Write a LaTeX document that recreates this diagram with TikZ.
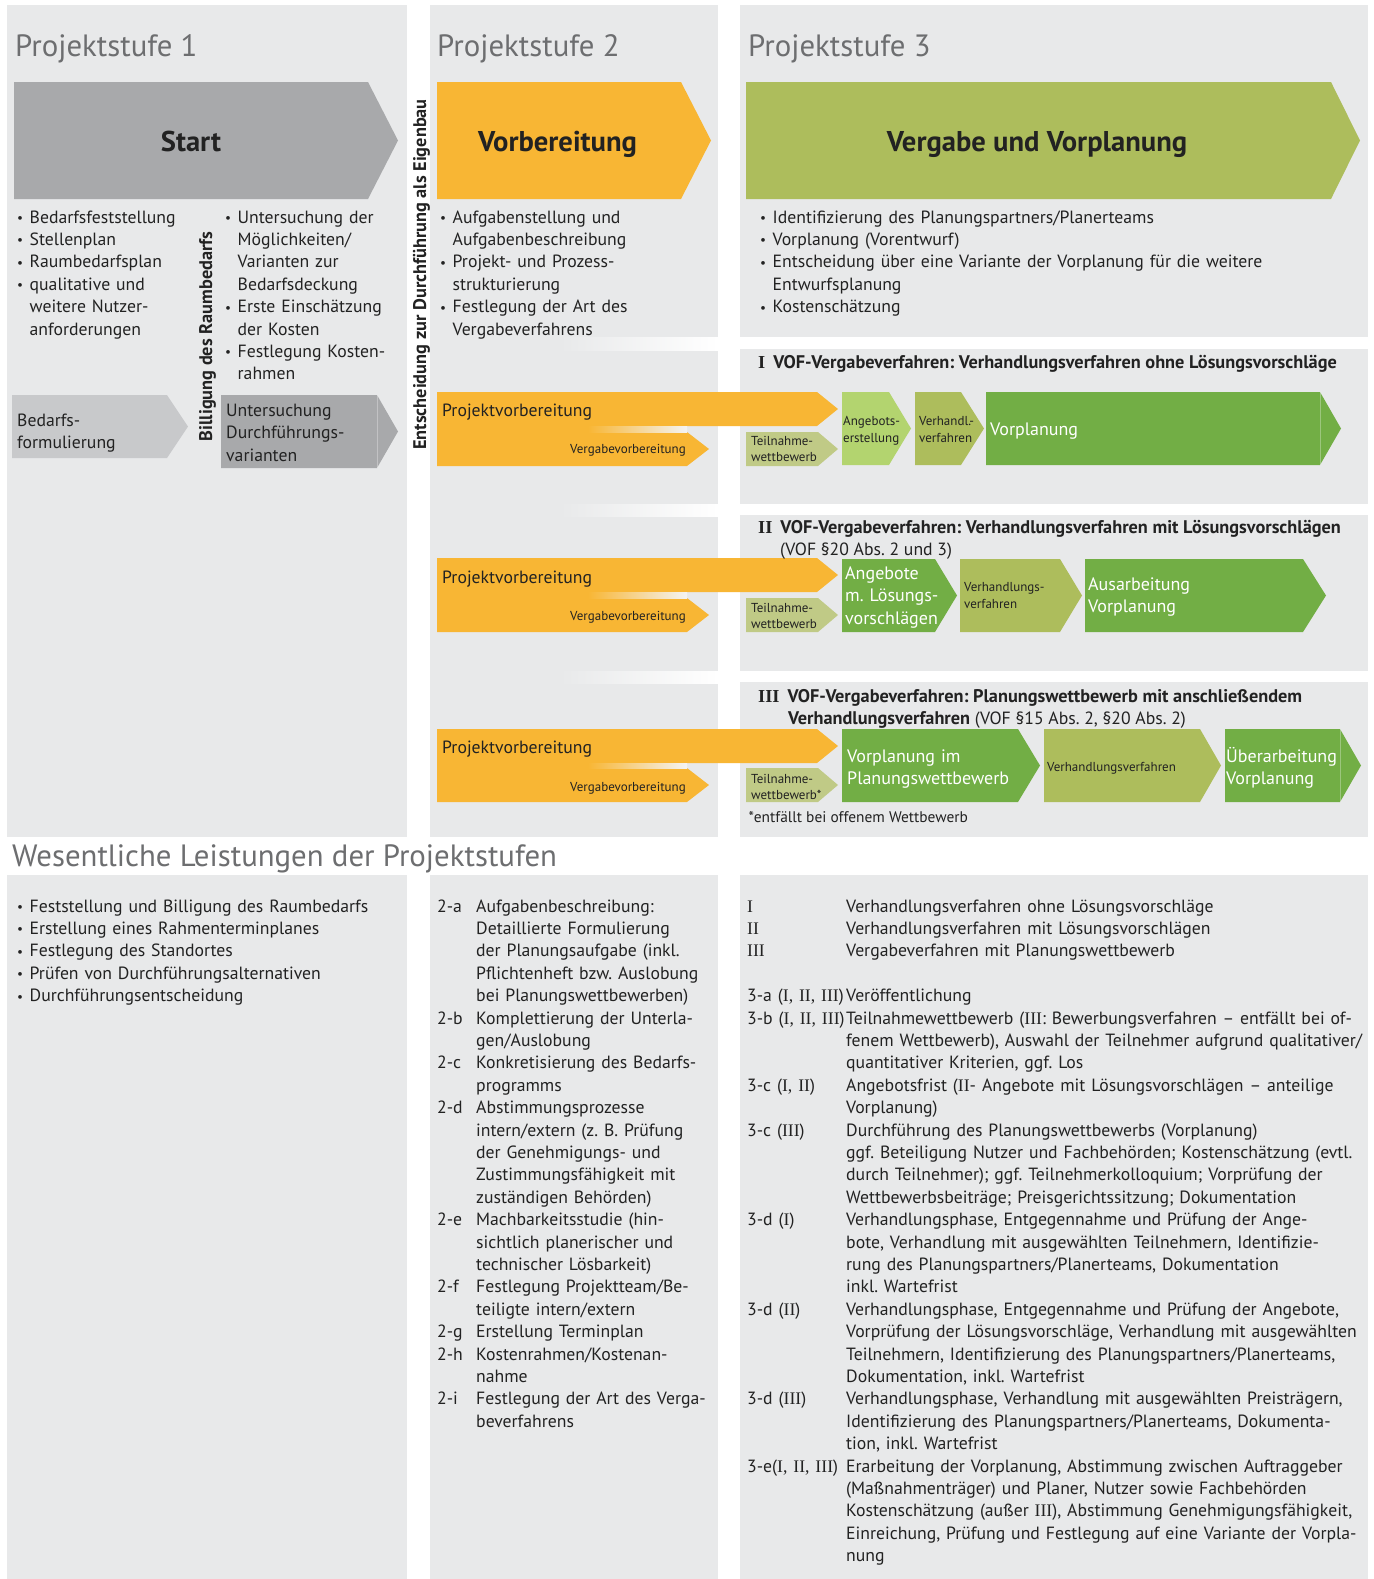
\documentclass[tikz,border=0pt]{standalone}
\usepackage{fontspec}
\setmainfont{PT Sans}
\newfontfamily\numfont{Liberation Serif}
\usepackage{graphicx}

\definecolor{panel}{HTML}{E8E9EA}
\definecolor{greymid}{HTML}{A8A9AB}
\definecolor{greylight}{HTML}{C8C9CB}
\definecolor{orng}{HTML}{F8B634}
\definecolor{olive}{HTML}{ADBD5C}
\definecolor{khaki}{HTML}{C0CA86}
\definecolor{lgreen}{HTML}{B3D46F}
\definecolor{dgreen}{HTML}{72AE45}
\definecolor{headgrey}{HTML}{6D6E70}
\definecolor{ink}{HTML}{222222}

% flat-backed chevron: colour, left x, top y, shoulder x, tip x, bottom y
\newcommand\chev[6]{\fill[#1] (#2,#3) -- (#4,#3) -- (#5,{(#3+#6)/2}) -- (#4,#6) -- (#2,#6) -- cycle;}
\newcommand\bul{\makebox[12.5pt][l]{\raisebox{0.6pt}{\scalebox{0.75}{•}}}}
\newcommand\bind{\hspace*{12.5pt}}
\newcommand\labtwo[1]{\makebox[39pt][l]{#1}}
\newcommand\indtwo{\hspace*{39pt}}
\newcommand\labthree[1]{\makebox[99pt][l]{#1}}
\newcommand\indthree{\hspace*{99pt}}
\newcommand\rn[1]{{\numfont #1}}

\tikzset{
  txt/.style={inner sep=0pt, anchor=base west, text=ink, font=\fontsize{17.7}{22.4}\selectfont},
  block/.style={txt, text width=#1, align=left},
  block/.default=720pt,
  smalltxt/.style={inner sep=0pt, anchor=base west, text=ink, font=\fontsize{13}{16.5}\selectfont, text width=150pt, align=left},
  vtag/.style={inner sep=0pt, anchor=base east, text=ink, font=\fontsize{13}{16.5}\selectfont},
  wtxt/.style={inner sep=0pt, anchor=base west, text=white, font=\fontsize{18}{22.4}\selectfont, text width=220pt, align=left},
  pvtxt/.style={inner sep=0pt, anchor=base west, text=ink, font=\fontsize{17.7}{22}\selectfont},
  headtxt/.style={inner sep=0pt, anchor=base west, text=headgrey, font=\fontsize{30.8}{36}\selectfont},
  stagetxt/.style={inner sep=0pt, anchor=base, text=ink, font=\fontsize{28.6}{33}\selectfont\bfseries},
  rowhead/.style={inner sep=0pt, anchor=base west, text=ink, font=\fontsize{18.3}{22.4}\selectfont\bfseries},
  verttxt/.style={inner sep=0pt, anchor=base, rotate=90, text=ink, font=\fontsize{18.3}{22.4}\selectfont\bfseries},
  seam/.style={white, opacity=0.3, line width=0.8pt},
}

\begin{document}
\frenchspacing
\begin{tikzpicture}[x=1pt,y=-1pt]
\useasboundingbox (0,0) rectangle (1373,1579);
\fill[white] (0,0) rectangle (1373,1579);

% ---------- background panels ----------
\fill[panel] (7,5) rectangle (407,837);
\fill[panel] (7,875) rectangle (407,1579);
\foreach \ya/\yb in {5/337,350/504,516/671,683/837}
  \fill[panel] (430,\ya) rectangle (718,\yb);
\foreach \ya/\yb in {337/350,504/516,671/683}{
  \fill[panel] (430,\ya) rectangle (560,\yb);
  \shade[left color=panel, right color=white] (560,\ya) rectangle (718,\yb);
}
\fill[panel] (430,875) rectangle (718,1579);
\foreach \ya/\yb in {5/337,349/504,515/671,682/837}
  \fill[panel] (740,\ya) rectangle (1368,\yb);
\fill[panel] (740,875) rectangle (1368,1579);

% ---------- stage chevrons ----------
\chev{greymid}{14}{82}{368}{398}{199}
\chev{orng}{437}{82}{681}{711}{199}
\chev{olive}{746}{82}{1331}{1360}{199}

% stage 1 steps
\chev{greylight}{12}{395}{167}{188}{458}
\chev{greymid}{221}{395}{377}{398}{468}
\draw[seam] (377,395) -- (377,468);

% ---------- preparation bands of the three procedures ----------
\foreach \ya/\yb/\yc/\yd in {392/426/432/466, 558/592/598/632, 729/763/768/802}{
  \chev{orng}{437}{\ya}{817}{838}{\yb}
  \chev{orng}{437}{\yc}{687}{709}{\yd}
  \fill[orng] (437,\yb) rectangle (589,\yc);
  \shade[left color=orng, right color=panel!50!white] (588,\yb) rectangle (687,\yc);
  \chev{khaki}{746}{\yc}{818}{838}{\yd}
}

% procedure I
\chev{lgreen}{842}{392}{889}{911}{465}
\chev{olive}{915}{392}{961}{984}{465}
\chev{dgreen}{986}{392}{1320}{1341}{465}
\draw[seam] (1320,392) -- (1320,465);
% procedure II
\chev{dgreen}{842}{559}{935}{957}{632}
\chev{olive}{960}{559}{1060}{1082}{632}
\chev{dgreen}{1085}{559}{1303}{1326}{632}
% procedure III
\chev{dgreen}{842}{729}{1018}{1040}{802}
\chev{olive}{1044}{729}{1200}{1221}{802}
\chev{dgreen}{1225}{729}{1340}{1361}{802}
\draw[seam] (1340,729) -- (1340,802);

% ---------- headings ----------
\node[headtxt] (ps1) at (15,56.5) {Projektstufe 1};
\node[headtxt] (ps2) at (437,56.5) {Projektstufe 2};
\node[headtxt] (ps3) at (748,56.5) {Projektstufe 3};
\node[stagetxt] (start) at (191,151.5) {Start};
\node[stagetxt] (vorb) at (557.5,151.5) {Vorbereitung};
\node[stagetxt] (verg) at (1037,151.5) {Vergabe und Vorplanung};

% ---------- stage task lists ----------
\node[block] (s1a) at (17,223) {\bul Bedarfsfeststellung\\
\bul Stellenplan\\
\bul Raumbedarfsplan\\
\bul qualitative und\\
\bind weitere Nutzer-\\
\bind anforderungen};
\node[block] (s1b) at (225,223) {\bul Untersuchung der\\
\bind Möglichkeiten/\\
\bind Varianten zur\\
\bind Bedarfsdeckung\\
\bul Erste Einschätzung\\
\bind der Kosten\\
\bul Festlegung Kosten-\\
\bind rahmen};
\node[block] (s2) at (440,223) {\bul Aufgabenstellung und\\
\bind Aufgabenbeschreibung\\
\bul Projekt- und Prozess-\\
\bind strukturierung\\
\bul Festlegung der Art des\\
\bind Vergabeverfahrens};
\node[block] (s3) at (760,223) {\bul Identifizierung des Planungspartners/Planerteams\\
\bul Vorplanung (Vorentwurf)\\
\bul Entscheidung über eine Variante der Vorplanung für die weitere\\
\bind Entwurfsplanung\\
\bul Kostenschätzung};

\node[block] (bf) at (17,426.5) {Bedarfs-\\formulierung};
\node[block] (ud) at (226,416.5) {Untersuchung\\Durchführungs-\\varianten};

\node[verttxt] (bill) at (212,336.5) {Billigung des Raumbedarfs};
\node[verttxt] (ent) at (426,274.5) {Entscheidung zur Durchführung als Eigenbau};

% ---------- procedure titles ----------
\node[rowhead] (h1) at (758,368) {\rn{I}\hspace{8pt}VOF-Vergabeverfahren: Verhandlungsverfahren ohne Lösungsvorschläge};
\node[rowhead] (h2) at (758,533) {\rn{II}\hspace{8pt}VOF-Vergabeverfahren: Verhandlungsverfahren mit Lösungsvorschlägen};
\node[txt] (h2b) at (780,555) {(VOF §20 Abs. 2 und 3)};
\node[rowhead] (h3) at (758,702) {\rn{III}\hspace{8pt}VOF-Vergabeverfahren: Planungswettbewerb mit anschließendem};
\node[txt] (h3b) at (788,724) {{\fontsize{18.3}{22.4}\selectfont\bfseries Verhandlungsverfahren} (VOF §15 Abs. 2, §20 Abs. 2)};

% ---------- band labels ----------
\foreach \n/\yp/\yv in {1/416.5/453.5, 2/583.5/620.5, 3/753.5/791.5}{
  \node[pvtxt] (pv\n) at (442,\yp) {Projektvorbereitung};
  \node[vtag] (vg\n) at (686,\yv) {Vergabevorbereitung};
}
\node[smalltxt] (tw1) at (751,445) {Teilnahme-\\wettbewerb};
\node[smalltxt] (ae1) at (843,425.5) {Angebots-\\erstellung};
\node[smalltxt] (vv1) at (919,425.5) {Verhandl.-\\verfahren};
\node[wtxt] (vp1) at (990,435.5) {Vorplanung};

\node[smalltxt] (tw2) at (751,612) {Teilnahme-\\wettbewerb};
\node[wtxt] (ang2) at (845,579.5) {Angebote\\m. Lösungs-\\vorschlägen};
\node[smalltxt] (vv2) at (964,591.5) {Verhandlungs-\\verfahren};
\node[wtxt] (aus2) at (1088,590.5) {Ausarbeitung\\Vorplanung};

\node[smalltxt] (tw3) at (751,783) {Teilnahme-\\wettbewerb*};
\node[wtxt] (vp3) at (847,762) {Vorplanung im\\Planungswettbewerb};
\node[smalltxt] (vv3) at (1047,771) {Verhandlungsverfahren};
\node[wtxt] (ub3) at (1226,762) {Überarbeitung\\Vorplanung};
\node[txt, font=\fontsize{15.4}{18}\selectfont] (fn) at (748.5,822) {*entfällt bei offenem Wettbewerb};

% ---------- key services ----------
\node[headtxt] (wl) at (12,866) {Wesentliche Leistungen der Projektstufen};

\node[block] (l1) at (17,912) {\bul Feststellung und Billigung des Raumbedarfs\\
\bul Erstellung eines Rahmenterminplanes\\
\bul Festlegung des Standortes\\
\bul Prüfen von Durchführungsalternativen\\
\bul Durchführungsentscheidung};

\node[block] (l2) at (437,912) {\labtwo{2-a}Aufgabenbeschreibung:\\
\indtwo Detaillierte Formulierung\\
\indtwo der Planungsaufgabe (inkl.\\
\indtwo Pflichtenheft bzw. Auslobung\\
\indtwo bei Planungswettbewerben)\\
\labtwo{2-b}Komplettierung der Unterla-\\
\indtwo gen/Auslobung\\
\labtwo{2-c}Konkretisierung des Bedarfs-\\
\indtwo programms\\
\labtwo{2-d}Abstimmungsprozesse\\
\indtwo intern/extern (z. B. Prüfung\\
\indtwo der Genehmigungs- und\\
\indtwo Zustimmungsfähigkeit mit\\
\indtwo zuständigen Behörden)\\
\labtwo{2-e}Machbarkeitsstudie (hin-\\
\indtwo sichtlich planerischer und\\
\indtwo technischer Lösbarkeit)\\
\labtwo{2-f}Festlegung Projektteam/Be-\\
\indtwo teiligte intern/extern\\
\labtwo{2-g}Erstellung Terminplan\\
\labtwo{2-h}Kostenrahmen/Kostenan-\\
\indtwo nahme\\
\labtwo{2-i}Festlegung der Art des Verga-\\
\indtwo beverfahrens};

\node[block] (l3) at (747,912) {\labthree{\rn{I}}Verhandlungsverfahren ohne Lösungsvorschläge\\
\labthree{\rn{II}}Verhandlungsverfahren mit Lösungsvorschlägen\\
\labthree{\rn{III}}Vergabeverfahren mit Planungswettbewerb\\[22.4pt]
\labthree{3-a (\rn{I, II, III})}Veröffentlichung\\
\labthree{3-b (\rn{I, II, III})}Teilnahmewettbewerb (\rn{III}: Bewerbungsverfahren – entfällt bei of-\\
\indthree fenem Wettbewerb), Auswahl der Teilnehmer aufgrund qualitativer/\\
\indthree quantitativer Kriterien, ggf. Los\\
\labthree{3-c (\rn{I, II})}Angebotsfrist (\rn{II}- Angebote mit Lösungsvorschlägen – anteilige\\
\indthree Vorplanung)\\
\labthree{3-c (\rn{III})}Durchführung des Planungswettbewerbs (Vorplanung)\\
\indthree ggf. Beteiligung Nutzer und Fachbehörden; Kostenschätzung (evtl.\\
\indthree durch Teilnehmer); ggf. Teilnehmerkolloquium; Vorprüfung der\\
\indthree Wettbewerbsbeiträge; Preisgerichtssitzung; Dokumentation\\
\labthree{3-d (\rn{I})}Verhandlungsphase, Entgegennahme und Prüfung der Ange-\\
\indthree bote, Verhandlung mit ausgewählten Teilnehmern, Identifizie-\\
\indthree rung des Planungspartners/Planerteams, Dokumentation\\
\indthree inkl. Wartefrist\\
\labthree{3-d (\rn{II})}Verhandlungsphase, Entgegennahme und Prüfung der Angebote,\\
\indthree Vorprüfung der Lösungsvorschläge, Verhandlung mit ausgewählten\\
\indthree Teilnehmern, Identifizierung des Planungspartners/Planerteams,\\
\indthree Dokumentation, inkl. Wartefrist\\
\labthree{3-d (\rn{III})}Verhandlungsphase, Verhandlung mit ausgewählten Preisträgern,\\
\indthree Identifizierung des Planungspartners/Planerteams, Dokumenta-\\
\indthree tion, inkl. Wartefrist\\
\labthree{3-e(\rn{I, II, III})}Erarbeitung der Vorplanung, Abstimmung zwischen Auftraggeber\\
\indthree (Maßnahmenträger) und Planer, Nutzer sowie Fachbehörden\\
\indthree Kostenschätzung (außer \rn{III}), Abstimmung Genehmigungsfähigkeit,\\
\indthree Einreichung, Prüfung und Festlegung auf eine Variante der Vorpla-\\
\indthree nung};
\end{tikzpicture}
\end{document}
